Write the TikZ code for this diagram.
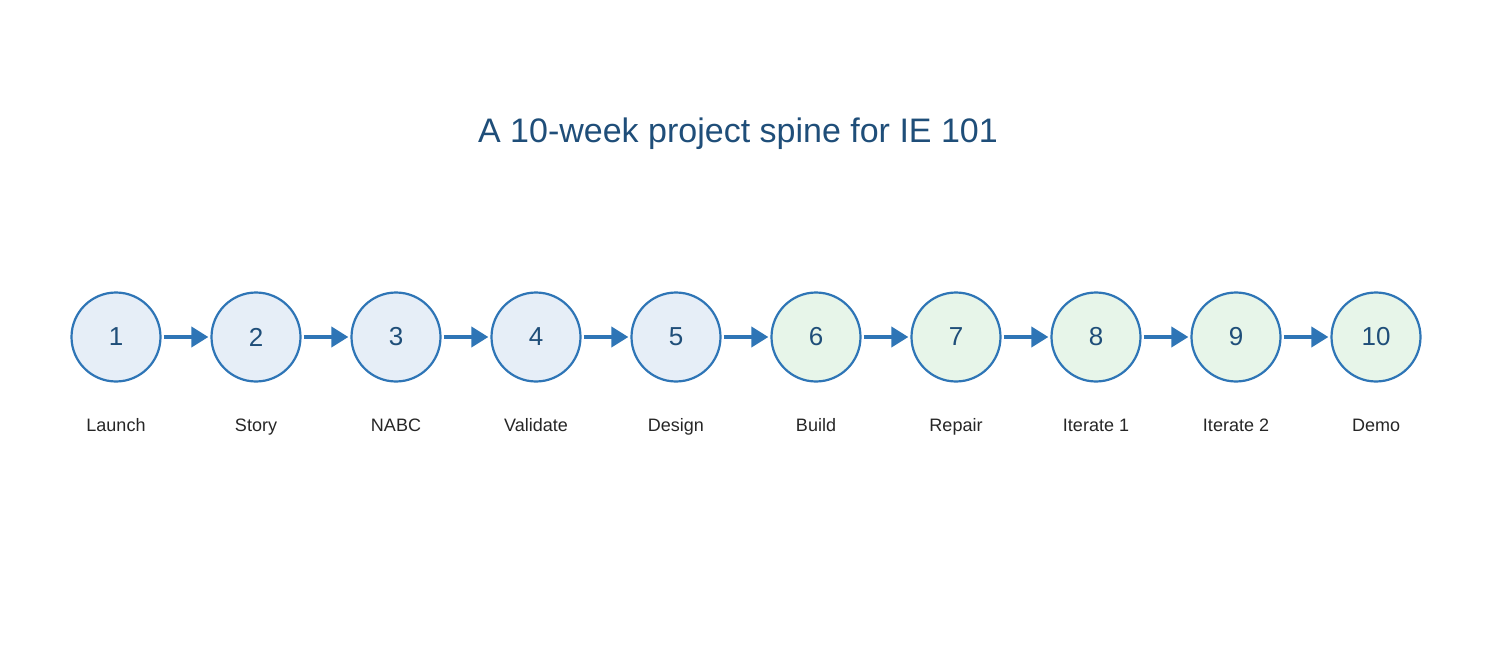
\documentclass[tikz,border=0pt]{standalone}
\usepackage{fontspec}
\setmainfont{Liberation Sans}
\usetikzlibrary{arrows.meta}
\definecolor{edge}{HTML}{2E75B6}
\definecolor{dark}{HTML}{1F4E79}
\definecolor{fb}{HTML}{E6EEF7}
\definecolor{fg}{HTML}{E7F5E9}
\begin{document}
\begin{tikzpicture}[x=1pt,y=-1pt,
  wk/.style={circle,draw=edge,line width=2.2pt,minimum size=89pt,inner sep=0pt,text=dark,font=\fontsize{26}{30}\selectfont},
  lab/.style={font=\fontsize{18}{21}\selectfont,text=black!85},
  conn/.style={draw=edge,line width=3.8pt,-{Triangle[length=17pt,width=20pt]},shorten >=2pt,shorten <=2pt}]
\useasboundingbox (0,0) rectangle (1500,650);
\node[text=dark,font=\fontsize{34}{40}\selectfont] (title) at (738,134) {A 10-week project spine for IE 101};
\foreach \i/\t/\f in {1/Launch/fb,2/Story/fb,3/NABC/fb,4/Validate/fb,5/Design/fb,6/Build/fg,7/Repair/fg,8/Iterate 1/fg,9/Iterate 2/fg,10/Demo/fg}{
  \node[wk,fill=\f] (n\i) at ({116+140*(\i-1)},337) {\i};
  \node[lab,anchor=base] (l\i) at ({116+140*(\i-1)},431) {\t};
}
\foreach \a/\b in {1/2,2/3,3/4,4/5,5/6,6/7,7/8,8/9,9/10}
  \draw[conn] (n\a) -- (n\b);
\end{tikzpicture}
\end{document}
